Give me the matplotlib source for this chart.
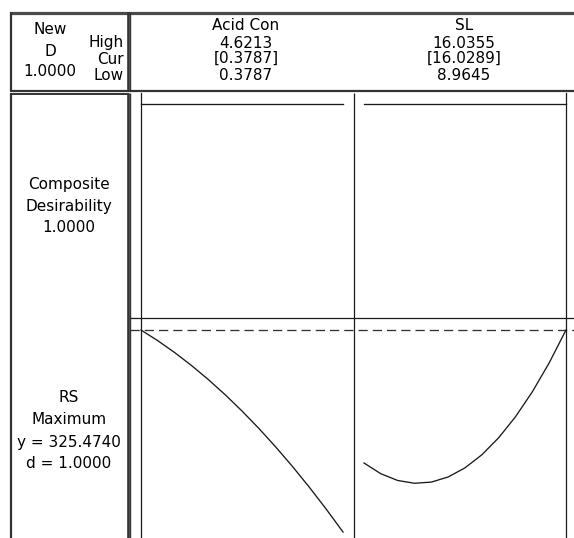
import matplotlib
matplotlib.use("Agg")
import matplotlib.pyplot as plt
from matplotlib.transforms import blended_transform_factory

# ---- optimizer settings and results ----
factors = ["Acid Con", "SL"]
high = [4.6213, 16.0355]
cur = [0.3787, 16.0289]
low = [0.3787, 8.9645]

composite_d = 1.0000
response = "RS"
goal = "Maximum"
y_opt = 325.4740
d_rs = 1.0000

# response trace of RS along each factor (other factor held at its current value)
acid_x = [0.3787, 0.7323, 1.0858, 1.4394, 1.7929, 2.1465, 2.5000,
          2.8536, 3.2071, 3.5607, 3.9142, 4.2678, 4.6213]
acid_rs = [325.47, 320.65, 315.32, 309.50, 303.17, 296.35, 289.02,
           281.20, 272.87, 264.05, 254.72, 244.90, 234.57]
sl_x = [8.9645, 9.5538, 10.1430, 10.7323, 11.3215, 11.9108, 12.5000,
        13.0893, 13.6785, 14.2678, 14.8570, 15.4463, 16.0355]
sl_rs = [265.62, 260.80, 257.76, 256.50, 257.03, 259.34, 263.44,
         269.32, 276.98, 286.43, 297.66, 310.67, 325.47]

# composite desirability trace along each factor
acid_d = [1.0, 1.0]
sl_d = [1.0, 1.0]

traces_rs = [(acid_x, acid_rs), (sl_x, sl_rs)]
traces_d = [([low[0], high[0]], acid_d), ([low[1], high[1]], sl_d)]

# ---- layout (pixels) ----
W, H = 574, 538
fig = plt.figure(figsize=(W / 100, H / 100), dpi=100)
fig.patch.set_facecolor("white")

ov = fig.add_axes([0, 0, 1, 1])
ov.set_xlim(0, W)
ov.set_ylim(H, 0)
ov.axis("off")

ink = "#1a1a1a"
txt = "#000000"
frame = "#333333"
FS = 11.0
FONT = ["DejaVu Sans"]


def px_axes(x0, x1, y0, y1):
    a = fig.add_axes([x0 / W, 1 - y1 / H, (x1 - x0) / W, (y1 - y0) / H])
    a.axis("off")
    a.patch.set_alpha(0)
    return a


def hline(y, x0, x1, lw=1.0, color=frame, **kw):
    ov.plot([x0, x1], [y, y], color=color, lw=lw, solid_capstyle="butt", **kw)


def vline(x, y0, y1, lw=1.0, color=frame, **kw):
    ov.plot([x, x], [y0, y1], color=color, lw=lw, solid_capstyle="butt", **kw)


# header frame
hline(12.5, 10, W, lw=2.3, color="#4a4a4a")
hline(91.2, 10, W, lw=1.6)
vline(11.2, 12, 91, lw=1.6)
vline(127.5, 12, 91, lw=1.9)
vline(130.3, 12, 91, lw=1.0)

# left label box of the plot rows
hline(93.8, 10, 128.5, lw=1.4)
vline(11.2, 93, H, lw=1.6)
vline(127.5, 93, H, lw=1.9)
vline(130.3, 93, H, lw=1.0)

# plot region grid
hline(318, 130, W, lw=0.9, color=ink)
vline(354, 93, H, lw=0.9, color=ink)


def t(x, y, s, ha="center"):
    ov.text(x, y, s, ha=ha, va="center", fontsize=FS, family=FONT, color=txt)


# header texts
t(50, 30, "New")
t(50, 51, "D")
t(50, 71, f"{composite_d:.4f}")
t(124, 43, "High", ha="right")
t(124, 59, "Cur", ha="right")
t(124, 75, "Low", ha="right")

col_centers = [246, 464]
for cx, name, hi, cu, lo in zip(col_centers, factors, high, cur, low):
    t(cx, 25, name)
    t(cx, 43, f"{hi:.4f}")
    t(cx, 58, f"[{cu:.4f}]")
    t(cx, 75, f"{lo:.4f}")

# row labels
t(69, 184, "Composite")
t(69, 206, "Desirability")
t(69, 228, f"{composite_d:.4f}")

t(69, 397, response)
t(69, 419, goal)
t(69, 442, f"y = {y_opt:.4f}")
t(69, 463, f"d = {d_rs:.4f}")

# data panels: horizontal pixel span of each factor's low..high range
spans = [(141, 343), (364, 566)]

# RS row: pixel 330 <-> y_opt, 0.45 response units per pixel
rs_top, rs_bot = 318, H
per_px = 0.45
rs_hi = y_opt + (330 - rs_top) * per_px
rs_lo = y_opt - (rs_bot - 330) * per_px

# desirability row: d=1 at pixel 104, d=0 at pixel 307
d_top, d_bot = 93, 318
d_per_px = 1.0 / (307 - 104)
d_hi = 1.0 + (104 - d_top) * d_per_px
d_lo = 0.0 - (d_bot - 307) * d_per_px

for i, (x0, x1) in enumerate(spans):
    ar = px_axes(x0, x1, rs_top, rs_bot)
    ar.set_xlim(low[i], high[i])
    ar.set_ylim(rs_lo, rs_hi)
    xs, ys = traces_rs[i]
    ar.plot(xs, ys, color=ink, lw=0.95, clip_on=False)

    ad = px_axes(x0, x1, d_top, d_bot)
    ad.set_xlim(low[i], high[i])
    ad.set_ylim(d_lo, d_hi)
    xs, ds = traces_d[i]
    ad.plot(xs, ds, color=ink, lw=0.95, clip_on=False)

    # current setting line of the factor
    tr = blended_transform_factory(ar.transData, ov.transData)
    ov.plot([cur[i], cur[i]], [93, H], color=ink, lw=0.9, transform=tr)

    if i == 0:
        # optimum response level across the row
        trh = blended_transform_factory(ov.transData, ar.transData)
        ov.plot([130, W], [y_opt, y_opt], color="#333333", lw=0.95,
                linestyle=(0, (7.0, 3.8)), transform=trh)

fig.savefig("out.png", dpi=100, facecolor="white")
